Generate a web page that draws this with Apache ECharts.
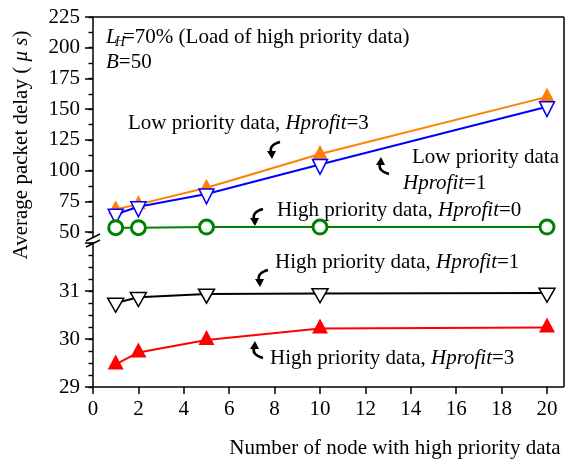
<!DOCTYPE html>
<html>
<head>
<meta charset="utf-8">
<script src="https://cdn.jsdelivr.net/npm/echarts@6/dist/echarts.min.js"></script>
<style>
  html, body { margin: 0; padding: 0; background: #fff; }
  #chart { width: 566px; height: 464px; }
</style>
</head>
<body>
<div id="chart"></div>
<script>
const FONT = "Liberation Serif";

// x positions: number of nodes with high priority data
const nodes = [1, 2, 5, 10, 20];
// upper panel (µs)
const lowHprofit3 = [68.5, 72.5, 86, 113.5, 160];
const lowHprofit1 = [64.5, 70.5, 81, 105, 152];
const highHprofit0 = [53.5, 53.5, 54, 54, 54];
// lower panel (µs)
const highHprofit1 = [30.75, 30.87, 30.94, 30.95, 30.96];
const highHprofit3 = [29.47, 29.72, 29.98, 30.22, 30.24];

const pairs = (ys) => nodes.map((x, i) => [x, ys[i]]);

const mychart = echarts.init(document.getElementById("chart"));

const txt = (x, y, rich) => ({
  type: "text",
  x: x,
  y: y,
  z: 100,
  style: {
    text: rich,
    fill: "#000",
    textVerticalAlign: "middle",
    rich: {
      n: { fontFamily: FONT, fontSize: 21, color: "#000" },
      i: { fontFamily: FONT, fontSize: 21, fontStyle: "italic", color: "#000" },
      s: { fontFamily: FONT, fontSize: 14, fontStyle: "italic", color: "#000" }
    }
  }
});

// little curved pointer next to each annotation
const pointer = (x, y, up) => ({
  type: "group",
  x: x,
  y: y,
  scaleY: up ? -1 : 1,
  z: 100,
  children: [
    {
      type: "bezierCurve",
      shape: { x1: 6, y1: -8, cpx1: -5, cpy1: -5, x2: -3, y2: 2 },
      style: { stroke: "#000", lineWidth: 2.6, fill: null }
    },
    {
      type: "polygon",
      shape: { points: [[-7, 1], [2, 1], [-2, 9]] },
      style: { fill: "#000" }
    }
  ]
});

const line = (x1, y1, x2, y2, w) => ({
  type: "line",
  z: 100,
  shape: { x1: x1, y1: y1, x2: x2, y2: y2 },
  style: { stroke: "#000", lineWidth: w || 1.5 }
});

const yAxisBase = {
  type: "value",
  axisLine: { show: true, lineStyle: { color: "#000", width: 1.5 } },
  axisTick: { show: true, length: 8, lineStyle: { color: "#000", width: 1.5 } },
  axisLabel: { color: "#000", fontFamily: FONT, fontSize: 21, margin: 13 },
  splitLine: { show: false }
};

// extra axis used only for the short minor ticks
const minorAxis = (grid, min, max, step) => ({
  type: "value",
  gridIndex: grid,
  position: "left",
  min: min,
  max: max,
  interval: step,
  axisLine: { show: false },
  axisTick: { show: true, length: 4.5, lineStyle: { color: "#000", width: 1.4 } },
  axisLabel: { show: false },
  splitLine: { show: false }
});

mychart.setOption({
  animation: false,
  backgroundColor: "#fff",
  grid: [
    { left: 93, right: 19, top: 17, height: 215 },
    { left: 93, right: 19, top: 243, height: 144 }
  ],
  xAxis: [
    { gridIndex: 0, type: "value", min: 0, max: 20, interval: 2, show: false },
    {
      gridIndex: 1,
      type: "value",
      min: 0,
      max: 20,
      interval: 2,
      axisLine: { lineStyle: { color: "#000", width: 1.5 } },
      axisTick: { show: true, length: 7, lineStyle: { color: "#000", width: 1.5 } },
      axisLabel: { color: "#000", fontFamily: FONT, fontSize: 21, margin: 12 },
      splitLine: { show: false }
    }
  ],
  yAxis: [
    Object.assign({}, yAxisBase, {
      gridIndex: 0,
      min: 50,
      max: 225,
      interval: 25
    }),
    Object.assign({}, yAxisBase, {
      gridIndex: 1,
      min: 29,
      max: 32,
      interval: 1,
      axisLabel: Object.assign({}, yAxisBase.axisLabel, {
        formatter: function(v) {
          return v === 32 ? "" : v;
        }
      })
    }),
    minorAxis(0, 50, 225, 12.5),
    minorAxis(1, 29, 32, 0.25)
  ],
  series: [
    {
      name: "Low priority data, Hprofit=3",
      type: "line",
      xAxisIndex: 0,
      yAxisIndex: 0,
      data: pairs(lowHprofit3),
      symbol: "triangle",
      symbolSize: [15, 14],
      symbolOffset: [0, -2],
      lineStyle: { color: "#FF8000", width: 2 },
      itemStyle: { color: "#FF8000" },
      z: 3
    },
    {
      name: "Low priority data, Hprofit=1",
      type: "line",
      xAxisIndex: 0,
      yAxisIndex: 0,
      data: pairs(lowHprofit1),
      symbol: "triangle",
      symbolRotate: 180,
      symbolSize: [15, 15],
      symbolOffset: [0, 2.5],
      lineStyle: { color: "#0000FF", width: 2 },
      itemStyle: { color: "#fff", borderColor: "#0000FF", borderWidth: 1.5 },
      z: 4
    },
    {
      name: "High priority data, Hprofit=0",
      type: "line",
      xAxisIndex: 0,
      yAxisIndex: 0,
      data: pairs(highHprofit0),
      symbol: "circle",
      symbolSize: 14,
      lineStyle: { color: "#008000", width: 2 },
      itemStyle: { color: "#fff", borderColor: "#008000", borderWidth: 3 },
      z: 5
    },
    {
      name: "High priority data, Hprofit=1",
      type: "line",
      xAxisIndex: 1,
      yAxisIndex: 1,
      data: pairs(highHprofit1),
      symbol: "triangle",
      symbolRotate: 180,
      symbolSize: [16, 14],
      symbolOffset: [0, 2.3],
      lineStyle: { color: "#000", width: 2 },
      itemStyle: { color: "#fff", borderColor: "#000", borderWidth: 1.5 },
      z: 4
    },
    {
      name: "High priority data, Hprofit=3",
      type: "line",
      xAxisIndex: 1,
      yAxisIndex: 1,
      data: pairs(highHprofit3),
      symbol: "triangle",
      symbolSize: [16, 15],
      symbolOffset: [0, -2.5],
      lineStyle: { color: "#FF0000", width: 2 },
      itemStyle: { color: "#FF0000" },
      z: 4
    }
  ],
  graphic: [
    // frame
    line(93, 17, 564, 17),
    line(564, 17, 564, 387),
    line(547, 387, 564, 387),
    // axis break
    line(93, 232, 93, 237.5),
    line(93, 242.5, 93, 244),
    line(86, 241, 100, 234, 1.4),
    line(86, 247, 100, 240, 1.4),
    // annotations
    txt(106, 37, "{i|L}"),
    txt(115, 42, "{s|H}"),
    txt(123, 37, "{n|=70% (Load of high priority data)}"),
    txt(106, 62, "{i|B}{n|=50}"),
    txt(128, 123, "{n|Low priority data, }{i|Hprofit}{n|=3}"),
    txt(412, 157, "{n|Low priority data}"),
    txt(403, 183, "{i|Hprofit}{n|=1}"),
    txt(277, 210, "{n|High priority data, }{i|Hprofit}{n|=0}"),
    txt(275, 262, "{n|High priority data, }{i|Hprofit}{n|=1}"),
    txt(270, 358, "{n|High priority data, }{i|Hprofit}{n|=3}"),
    pointer(274, 150, false),
    pointer(383, 166, true),
    pointer(257, 217, false),
    pointer(262, 278, false),
    pointer(257, 350, true),
    // axis titles
    {
      type: "text",
      x: 21,
      y: 145,
      rotation: Math.PI / 2,
      z: 100,
      style: {
        text: "{n|Average packet delay ( }{i|\u03bc s}{n|)}",
        textAlign: "center",
        textVerticalAlign: "middle",
        rich: {
          n: { fontFamily: FONT, fontSize: 21, color: "#000" },
          i: { fontFamily: FONT, fontSize: 21, fontStyle: "italic", color: "#000" }
        }
      }
    },
    {
      type: "text",
      x: 395,
      y: 448,
      z: 100,
      style: {
        text: "Number of node with high priority data",
        font: "21px '" + FONT + "'",
        fill: "#000",
        textAlign: "center",
        textVerticalAlign: "middle"
      }
    }
  ]
});
</script>
</body>
</html>
